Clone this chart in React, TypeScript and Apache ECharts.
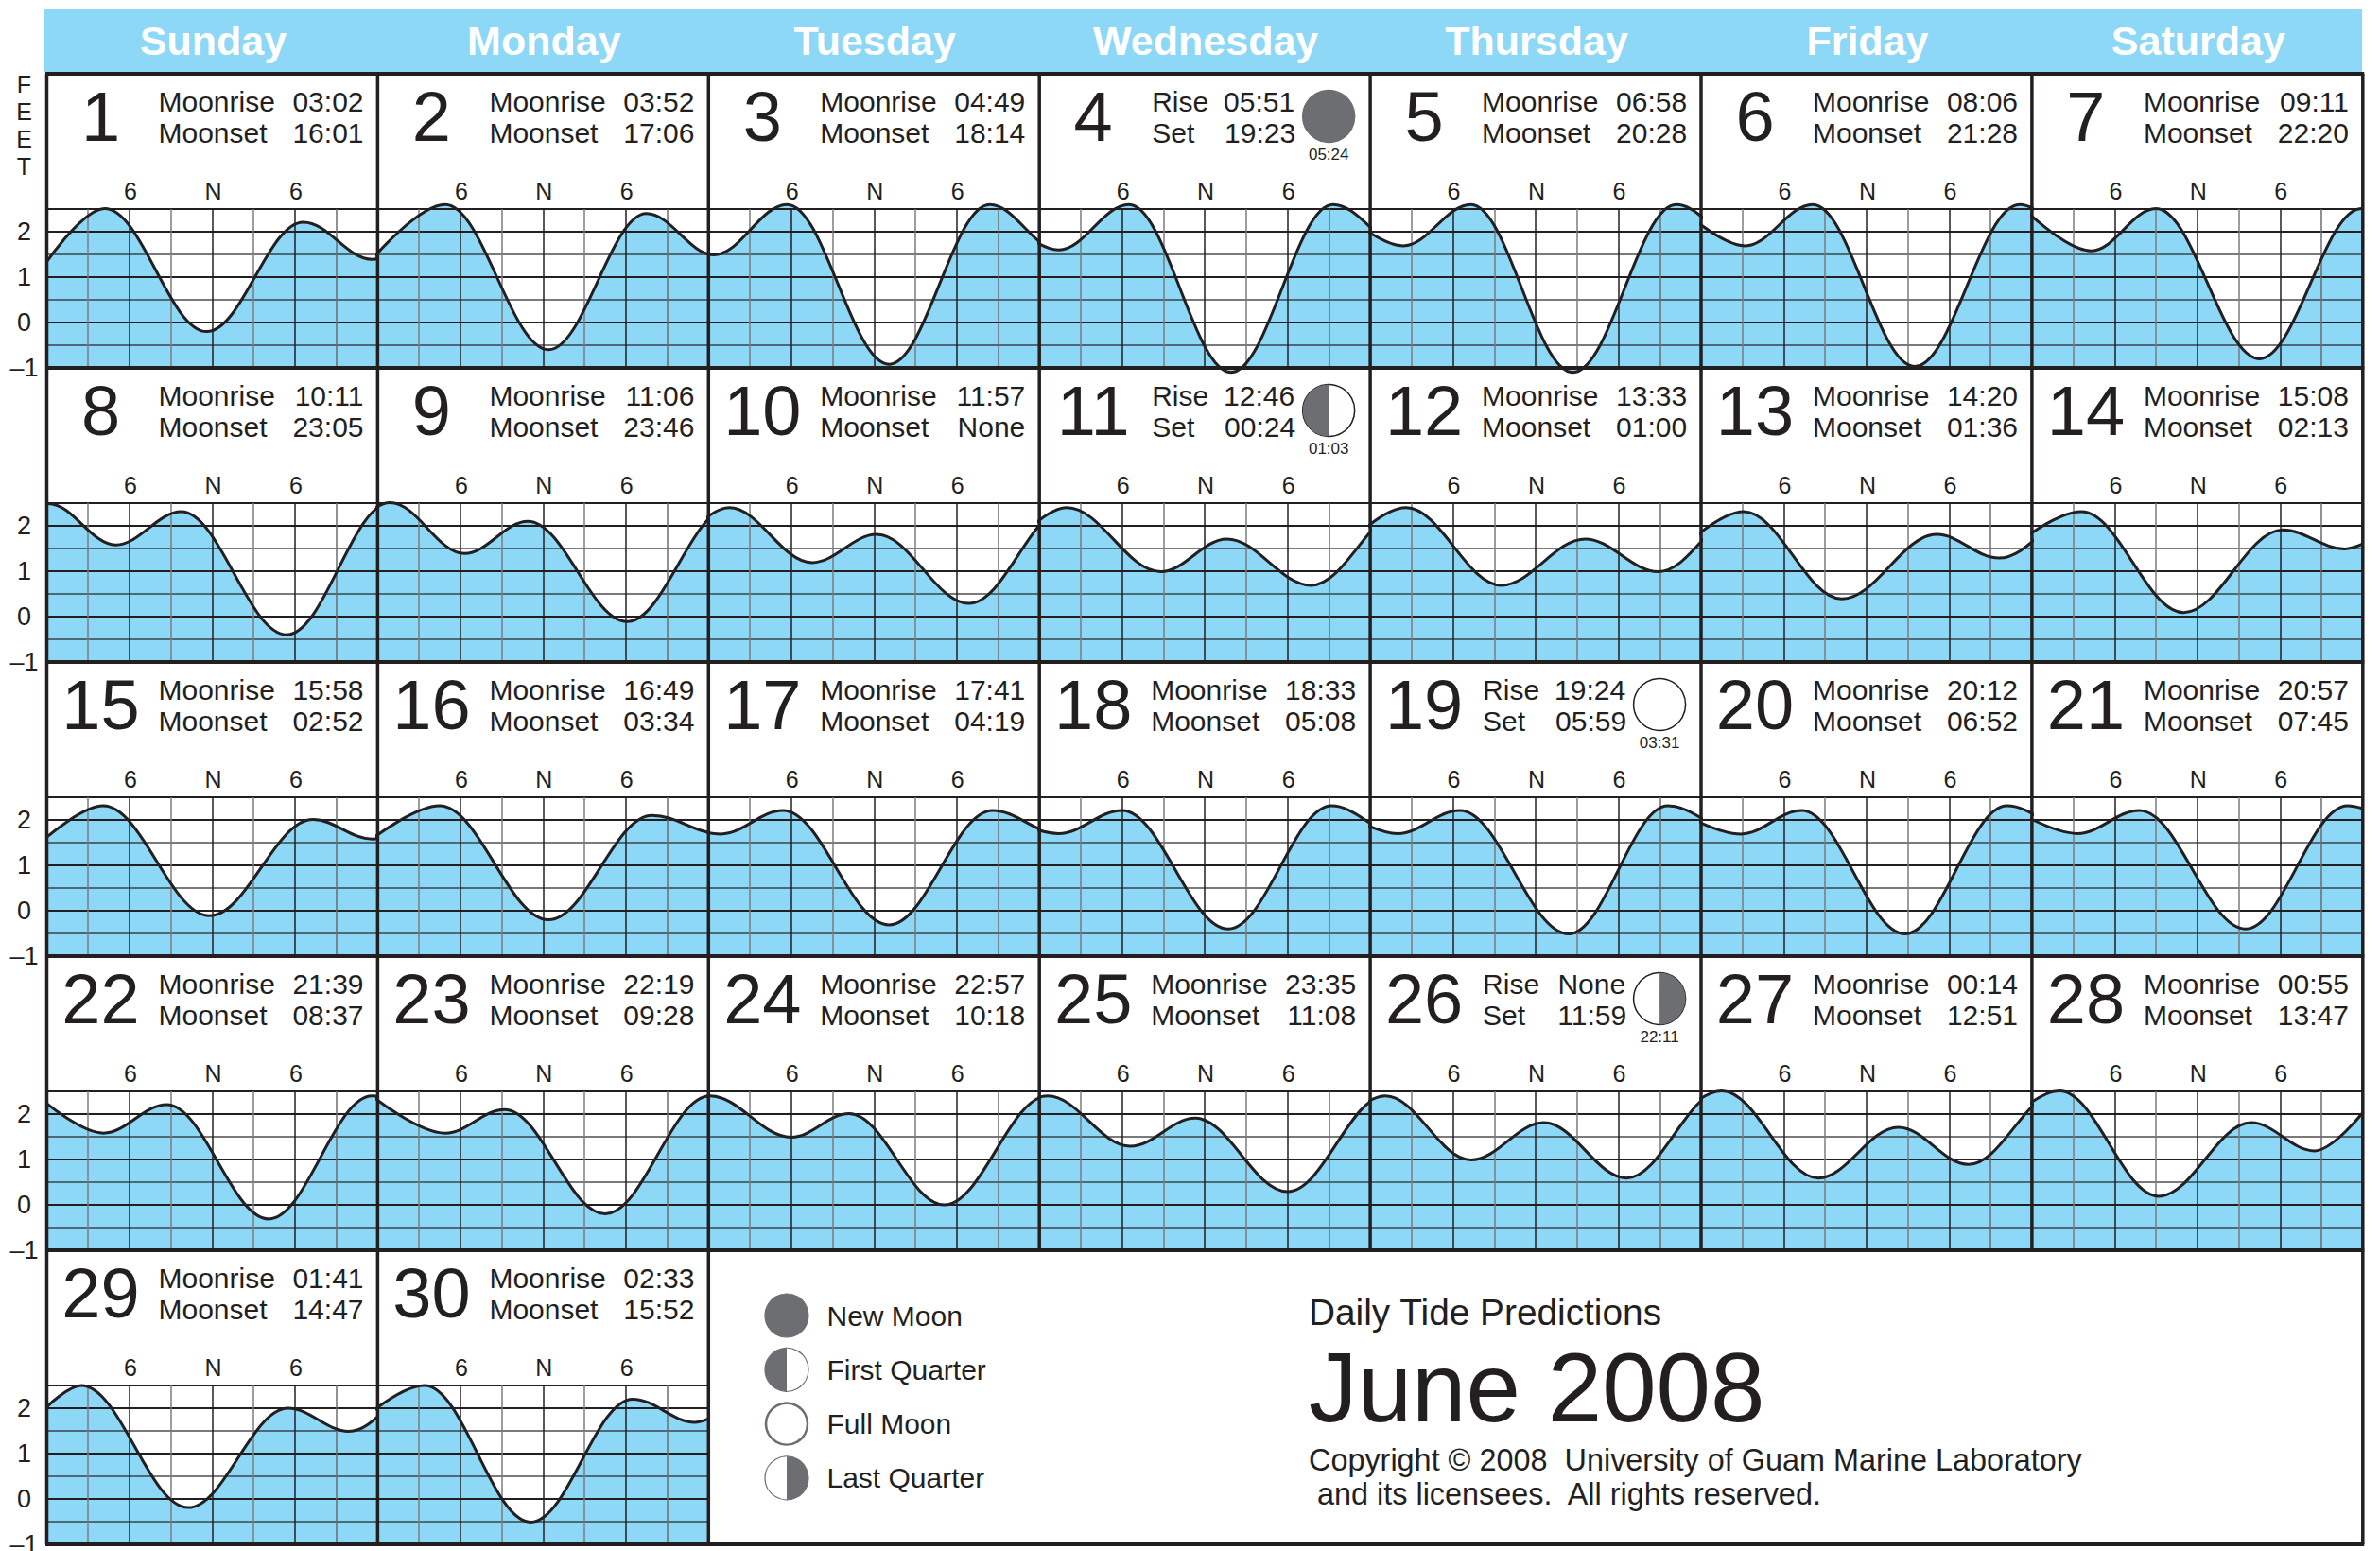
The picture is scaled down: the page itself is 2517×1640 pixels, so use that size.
import React, { useEffect, useRef } from "react";
import * as echarts from "echarts";

const INK = "#231f20";
const SKY = "#8dd7f7";
const MOONGREY = "#6d6e71";
const FONT = '"Liberation Sans"';

const weekdays = ["Sunday", "Monday", "Tuesday", "Wednesday", "Thursday", "Friday", "Saturday"];
const feetLetters = ["F", "E", "E", "T"];

const moonrise = ["03:02","03:52","04:49","05:51","06:58","08:06","09:11","10:11","11:06","11:57","12:46","13:33","14:20","15:08","15:58","16:49","17:41","18:33","19:24","20:12","20:57","21:39","22:19","22:57","23:35","None","00:14","00:55","01:41","02:33"];
const moonset = ["16:01","17:06","18:14","19:23","20:28","21:28","22:20","23:05","23:46","None","00:24","01:00","01:36","02:13","02:52","03:34","04:19","05:08","05:59","06:52","07:45","08:37","09:28","10:18","11:08","11:59","12:51","13:47","14:47","15:52"];
const phases: Record<number, [string, string]> = { 4: ["new", "05:24"], 11: ["first", "01:03"], 19: ["full", "03:31"], 26: ["last", "22:11"] };
const legendItems: [string, string][] = [["new", "New Moon"], ["first", "First Quarter"], ["full", "Full Moon"], ["last", "Last Quarter"]];

// [hour of day, feet]: midnight value, each high and low tide, next midnight value
const day1 = [[0,1.34],[4.2,2.51],[11.6,-0.2],[18.6,2.21],[23.6,1.39],[24,1.4]];
const day2 = [[0,1.42],[4.9,2.6],[12.4,-0.6],[19.5,2.4],[24,1.5]];
const day3 = [[0,1.5],[0.4,1.49],[5.7,2.6],[13.1,-0.92],[20.4,2.6],[24,1.8]];
const day4 = [[0,1.8],[1.4,1.6],[6.5,2.6],[13.9,-1.1],[21.3,2.6],[24,2.1]];
const day5 = [[0,2.1],[2.4,1.69],[7.3,2.6],[14.7,-1.1],[22.2,2.6],[24,2.3]];
const day6 = [[0,2.3],[3.2,1.69],[8.1,2.6],[15.5,-0.97],[23.1,2.6],[24,2.55]];
const day7 = [[0,2.55],[4.3,1.58],[9,2.51],[16.5,-0.8],[23.9,2.51],[24,2.5]];
const day8 = [[0,2.5],[0.1,2.49],[5,1.58],[9.75,2.31],[17.4,-0.4],[24,2.42]];
const day9 = [[0,2.42],[0.9,2.51],[6.3,1.39],[10.9,2.1],[18.1,-0.11],[24,2.15]];
const day10 = [[0,2.15],[1.5,2.4],[7.5,1.19],[12.2,1.81],[18.9,0.29],[24,2.0]];
const day11 = [[0,2.0],[2,2.4],[8.8,0.99],[13.6,1.71],[19.7,0.69],[24,1.87]];
const day12 = [[0,1.87],[2.6,2.4],[9.5,0.69],[15.6,1.71],[20.9,0.99],[24,1.6]];
const day13 = [[0,1.6],[3.1,2.31],[10.2,0.39],[17.1,1.81],[21.6,1.29],[24,1.6]];
const day14 = [[0,1.6],[3.6,2.31],[11,0.09],[18.2,1.91],[22.7,1.49],[24,1.6]];
const day15 = [[0,1.62],[4.1,2.31],[11.8,-0.11],[19.3,2.01],[23.6,1.58],[24,1.6]];
const day16 = [[0,1.6],[4.5,2.31],[12.4,-0.2],[19.9,2.1],[24,1.72]];
const day17 = [[0,1.72],[0.9,1.69],[5.4,2.21],[13.1,-0.31],[20.6,2.21],[24,1.8]];
const day18 = [[0,1.8],[1.4,1.7],[6,2.21],[13.7,-0.4],[21.2,2.31],[24,1.93]];
const day19 = [[0,1.93],[2,1.7],[6.5,2.21],[14.4,-0.51],[21.6,2.31],[24,2.05]];
const day20 = [[0,2.05],[2.9,1.69],[7.3,2.21],[14.8,-0.51],[22.2,2.31],[24,2.14]];
const day21 = [[0,2.14],[3.3,1.7],[7.8,2.21],[15.5,-0.4],[22.9,2.31],[24,2.25]];
const day22 = [[0,2.23],[4.1,1.58],[8.7,2.21],[16.1,-0.31],[23.6,2.4],[24,2.39]];
const day23 = [[0,2.39],[4.9,1.58],[9.2,2.1],[16.5,-0.2],[24,2.4]];
const day24 = [[0,2.4],[0.1,2.4],[6,1.49],[10.2,2.01],[17.1,0],[24,2.36]];
const day25 = [[0,2.36],[0.6,2.4],[6.6,1.29],[11.3,1.91],[18,0.29],[24,2.28]];
const day26 = [[0,2.28],[1.1,2.4],[7.3,0.99],[12.6,1.81],[18.6,0.59],[24,2.3]];
const day27 = [[0,2.3],[1.5,2.51],[8.5,0.59],[14.3,1.71],[19.4,0.89],[24,2.16]];
const day28 = [[0,2.16],[2,2.51],[9.2,0.19],[15.9,1.81],[20.5,1.19],[24,2.03]];
const day29 = [[0,2.03],[2.5,2.5],[10.25,-0.19],[17.5,2.0],[21.9,1.49],[24,1.83]];
const day30 = [[0,1.83],[3.4,2.5],[11.1,-0.51],[18.5,2.2],[23,1.69],[24,1.77]];
const tides = [day1,day2,day3,day4,day5,day6,day7,day8,day9,day10,day11,day12,day13,day14,day15,day16,day17,day18,day19,day20,day21,day22,day23,day24,day25,day26,day27,day28,day29,day30];

const COL_W = 349.9, COL_X = 49.5, ROW_H = 311, ROW_Y = 78;
const colX = (c: number) => COL_X + COL_W * c;
const rowY = (r: number) => ROW_Y + ROW_H * r;

// A day's curve runs on to the neighbouring day's nearest tide, under that day's own
// identical stretch, so the tide keeps its shape across the cell edge. Not at the frame's sides.
// The extra stub past that tide keeps the smoothing of the last real segment the same as in the neighbour.
const STUB = 0.01;
function curveFor(i: number) {
  const own = tides[i];
  const c = i % 7;
  const body = own.slice(1, -1);
  let head = [own[0]];
  let tail = [own[own.length - 1]];
  if (c > 0) {
    const prev = tides[i - 1];
    const p = prev[prev.length - 2];
    head = [[p[0] - 24 - STUB, p[1]], [p[0] - 24, p[1]]];
  }
  if (c < 6 && i < tides.length - 1) {
    const n = tides[i + 1][1];
    tail = [[n[0] + 24, n[1]], [n[0] + 24 + STUB, n[1]]];
  }
  return [...head, ...body, ...tail];
}

function txt(text: string, x: number, y: number, size: number, align = "left", extra: any = {}) {
  return {
    type: "text", z: 6, silent: true,
    style: { text, x, y, font: `${extra.weight || "normal"} ${size}px ${FONT}`, fill: extra.fill || INK, textAlign: align, align, textVerticalAlign: "middle", verticalAlign: "middle" },
  };
}
function line(x1: number, y1: number, x2: number, y2: number, w: number) {
  return { type: "line", z: 5, silent: true, shape: { x1, y1, x2, y2 }, style: { stroke: INK, lineWidth: w } };
}
function moon(kind: string, cx: number, cy: number, r: number, strokeW: number, outline: string) {
  const out: any[] = [];
  const fill = kind === "new" ? MOONGREY : "#ffffff";
  out.push({ type: "circle", z: 6, silent: true, shape: { cx, cy, r }, style: { fill, stroke: kind === "new" ? MOONGREY : outline, lineWidth: strokeW } });
  if (kind === "first") out.push({ type: "sector", z: 7, silent: true, shape: { cx, cy, r, startAngle: Math.PI / 2, endAngle: (3 * Math.PI) / 2 }, style: { fill: MOONGREY } });
  if (kind === "last") out.push({ type: "sector", z: 7, silent: true, shape: { cx, cy, r, startAngle: -Math.PI / 2, endAngle: Math.PI / 2 }, style: { fill: MOONGREY } });
  return out;
}

function buildOption() {
  const grid: any[] = [], xAxis: any[] = [], yAxis: any[] = [], series: any[] = [], g: any[] = [];
  const xColors = [INK, "#7c7c7c", INK, "#7c7c7c", INK, "#7c7c7c", INK, "#6c6c6c", INK];
  const half = "rgba(35,31,32,0.6)";
  const yColors = [INK, half, INK, half, INK, half, INK, INK];

  g.push({ type: "rect", z: 1, silent: true, shape: { x: 47, y: 9, width: 2451, height: 67 }, style: { fill: SKY } });
  weekdays.forEach((d, c) => g.push(txt(d, colX(c) + COL_W / 2 + 1, 43, 43, "center", { weight: "bold", fill: "#ffffff" })));
  feetLetters.forEach((l, i) => g.push(txt(l, 25.5, 89 + i * 29, 25, "center")));

  tides.forEach((_, i) => {
    const day = i + 1, c = i % 7, r = Math.floor(i / 7);
    const x0 = colX(c), y0 = rowY(r);
    grid.push({ left: x0, top: y0 + 143, width: COL_W, height: ROW_H - 143, show: false, outerBoundsMode: "none", containLabel: false });
    xAxis.push({
      gridIndex: i, type: "value", min: 0, max: 24, interval: 3, position: "top", z: 2,
      axisLine: { show: false }, axisTick: { show: false },
      axisLabel: { show: true, margin: 7, fontFamily: FONT, fontSize: 25, color: INK, verticalAlign: "bottom", padding: [0, 0, 0, 2],
        formatter: (v: number) => (v === 6 || v === 18 ? "6" : v === 12 ? "N" : "") },
      splitLine: { show: true, lineStyle: { color: xColors, width: 1.5 } },
    });
    yAxis.push({
      gridIndex: i, type: "value", min: -1, max: 2.5, interval: 0.5, z: 2,
      axisLine: { show: false }, axisTick: { show: false },
      axisLabel: { show: c === 0, margin: 24, align: "center", fontFamily: FONT, fontSize: 27, color: INK, padding: [9, 0, 0, 0],
        formatter: (v: number) => (Number.isInteger(v) ? (v < 0 ? "\u2013" + Math.abs(v) : String(v)) : "") },
      splitLine: { show: true, lineStyle: { color: yColors, width: 2 } },
    });
    const curve = { xAxisIndex: i, yAxisIndex: i, data: curveFor(i), smooth: 0.364, smoothMonotone: "x", showSymbol: false, clip: false, silent: true };
    series.push({ type: "line", z: 1, ...curve, lineStyle: { width: 0 }, areaStyle: { color: SKY, opacity: 1, origin: "start" } });
    series.push({ type: "line", z: 3, ...curve, lineStyle: { width: 3, color: INK } });

    g.push(txt(String(day), x0 + 57, y0 + 45, 74, "center"));
    const ph = phases[day];
    if (ph) {
      g.push(txt("Rise", x0 + 119, y0 + 29.5, 30));
      g.push(txt("Set", x0 + 119, y0 + 62.5, 30));
      g.push(txt(moonrise[i], x0 + 270, y0 + 29.5, 30, "right"));
      g.push(txt(moonset[i], x0 + 271, y0 + 62.5, 30, "right"));
      g.push(...moon(ph[0], x0 + 306, y0 + 45, 27.5, 1.5, INK));
      g.push(txt(ph[1], x0 + 306, y0 + 85.5, 17, "center"));
    } else {
      g.push(txt("Moonrise", x0 + 118, y0 + 29.5, 30));
      g.push(txt("Moonset", x0 + 118, y0 + 62.5, 30));
      g.push(txt(moonrise[i], x0 + 335, y0 + 29.5, 30, "right"));
      g.push(txt(moonset[i], x0 + 335, y0 + 62.5, 30, "right"));
    }
  });

  // cell frame
  for (let r = 0; r <= 5; r++) g.push(line(COL_X - 1.5, rowY(r), colX(7) + 1.5, rowY(r), 4));
  for (let c = 0; c <= 7; c++) {
    const toRow = c === 0 || c === 1 || c === 2 || c === 7 ? 5 : 4;
    g.push(line(colX(c), rowY(0), colX(c), rowY(toRow), 3.5));
  }

  // legend and title block
  legendItems.forEach(([k, label], i) => {
    const cy = 1391 + i * 57.3;
    g.push(...moon(k, 832, cy, k === "full" ? 22 : 23, k === "full" ? 2.5 : 1.2, MOONGREY));
    g.push(txt(label, 874.5, cy, 30));
  });
  g.push(txt("Daily Tide Predictions", 1384, 1387, 38.8));
  g.push(txt("June 2008", 1384, 1467, 103.3));
  g.push(txt("Copyright \u00a9 2008  University of Guam Marine Laboratory", 1384, 1544, 32.4));
  g.push(txt(" and its licensees.  All rights reserved.", 1384, 1580, 32.4));

  return {
    animation: false, backgroundColor: "#ffffff", grid, xAxis, yAxis, series,
    tooltip: { show: false }, legend: { show: false },
    graphic: { elements: g },
  };
}

export default function App() {
  const ref = useRef<HTMLDivElement>(null);
  useEffect(() => {
    const chart = echarts.init(ref.current!, undefined, { renderer: "svg" });
    chart.setOption(buildOption() as any);
    return () => chart.dispose();
  }, []);
  return <div ref={ref} style={{ position: "absolute", left: 0, top: 0, width: 2517, height: 1640 }} />;
}
